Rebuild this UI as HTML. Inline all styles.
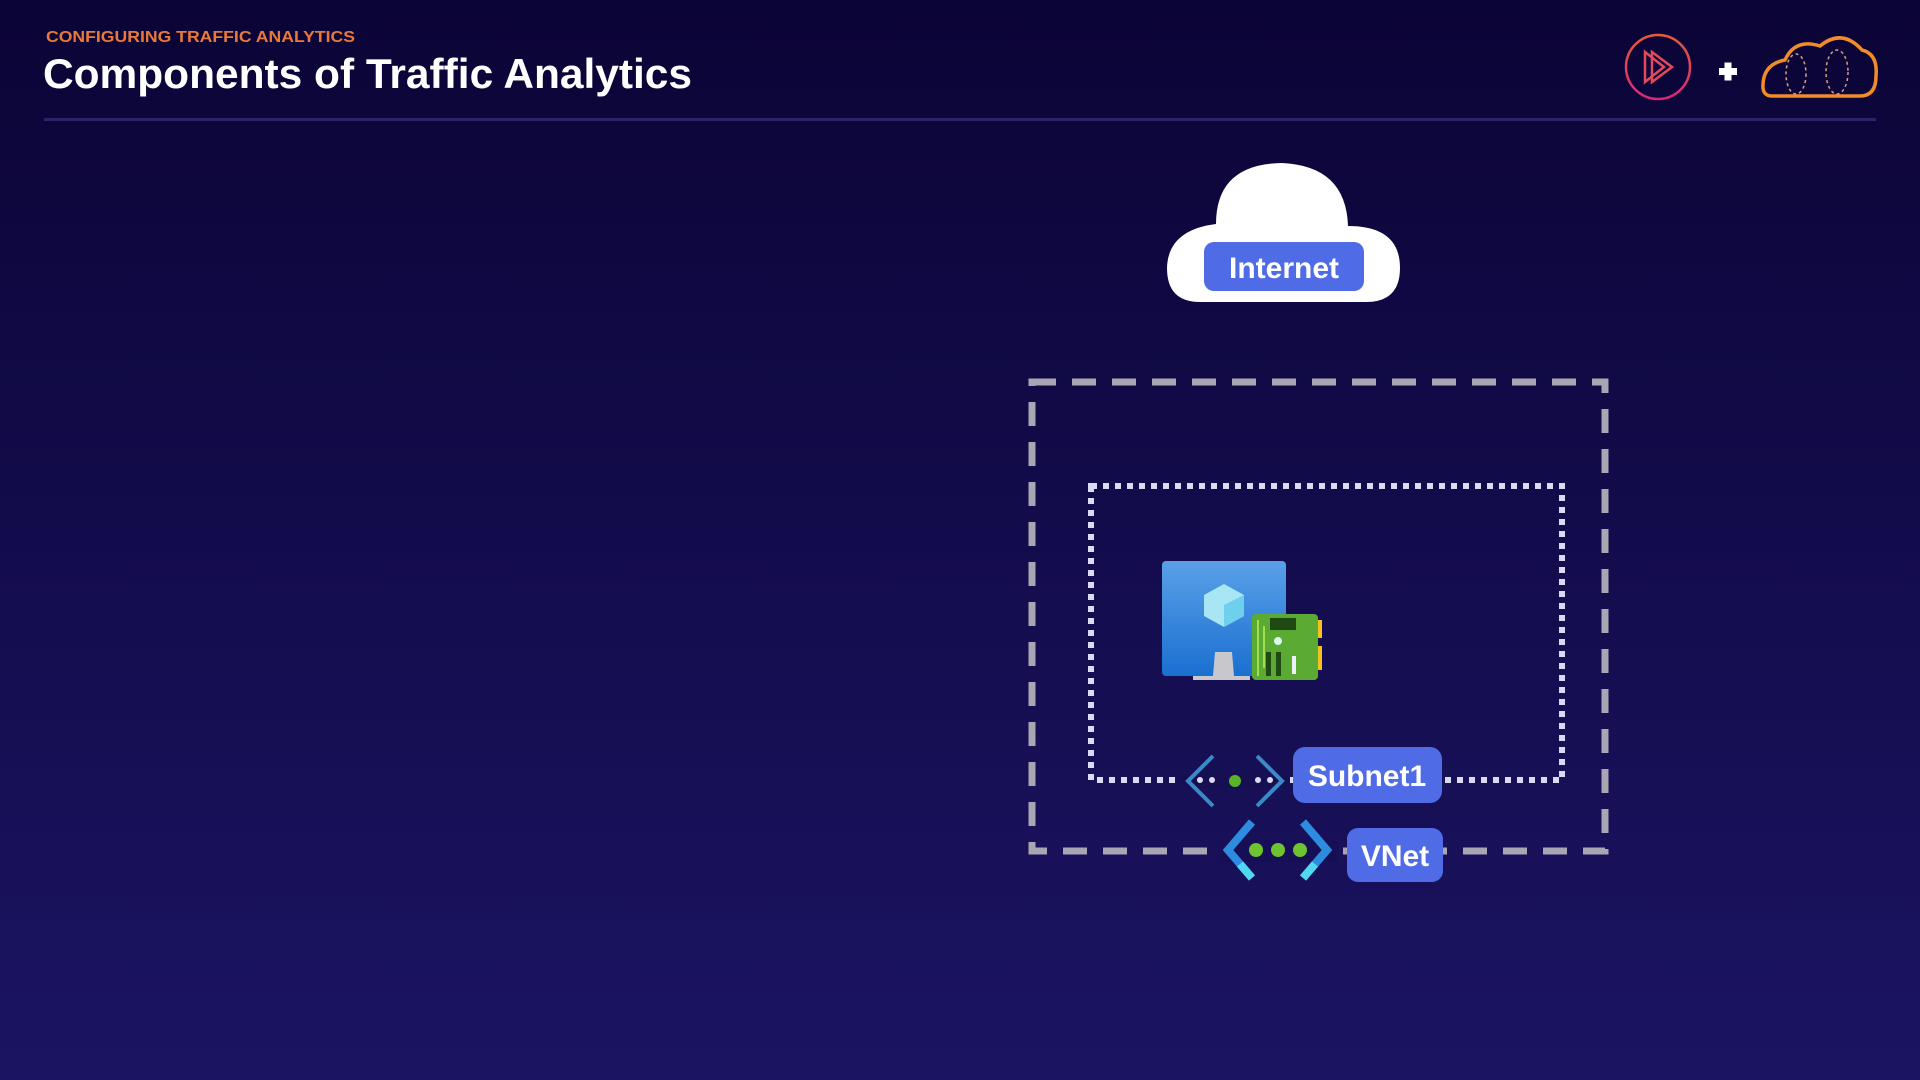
<!DOCTYPE html>
<html><head><meta charset="utf-8"><style>
html,body{margin:0;padding:0;width:1920px;height:1080px;overflow:hidden;background:#0c0538;}
svg{display:block}
</style></head><body>
<svg width="1920" height="1080" viewBox="0 0 1920 1080" xmlns="http://www.w3.org/2000/svg">
<defs>
<linearGradient id="bg" x1="0" y1="0" x2="0" y2="1">
<stop offset="0" stop-color="#0b0436"/><stop offset="1" stop-color="#1b1462"/>
</linearGradient>
<linearGradient id="pl" x1="0" y1="0" x2="0" y2="1">
<stop offset="0" stop-color="#e85a3a"/><stop offset="1" stop-color="#d9267a"/>
</linearGradient>
<linearGradient id="mon" x1="0" y1="0" x2="0" y2="1">
<stop offset="0" stop-color="#5aa0e8"/><stop offset="1" stop-color="#1a6fd0"/>
</linearGradient>
</defs>
<rect width="1920" height="1080" fill="url(#bg)"/>
<text x="46" y="42" textLength="309" lengthAdjust="spacingAndGlyphs" font-family="Liberation Sans, sans-serif" font-weight="bold" font-size="16" fill="#e8793a">CONFIGURING TRAFFIC ANALYTICS</text>
<text x="43" y="88" textLength="649" lengthAdjust="spacingAndGlyphs" font-family="Liberation Sans, sans-serif" font-weight="bold" font-size="42" fill="#ffffff">Components of Traffic Analytics</text>
<rect x="44" y="118" width="1832" height="3" fill="#2a2466"/>
<!-- logos -->
<circle cx="1658" cy="67" r="32" fill="none" stroke="url(#pl)" stroke-width="2.5"/>
<path d="M1645 52 L1645 82 L1664 67 Z" fill="none" stroke="#e24a5a" stroke-width="2.5"/>
<path d="M1652 52 L1652 82 L1672 67 Z" fill="none" stroke="#e24a5a" stroke-width="2.5"/>
<rect x="1719" y="68" width="18" height="7" fill="#fff"/><rect x="1724.5" y="62.5" width="7" height="18" fill="#fff"/>
<path d="M1772 96 Q1762 96 1763 84 Q1764 64 1785 60 Q1795 38 1820 46 Q1842 28 1862 50 Q1878 54 1876 76 Q1876 96 1860 96 Z" fill="none" stroke="#f08c2a" stroke-width="3.5"/>
<ellipse cx="1796" cy="74" rx="10" ry="20" fill="none" stroke="#d8a080" stroke-width="1.5" stroke-dasharray="3 3"/>
<ellipse cx="1837" cy="72" rx="11" ry="22" fill="none" stroke="#d8a080" stroke-width="1.5" stroke-dasharray="3 3"/>
<!-- internet cloud -->
<path d="M1200 302 Q1167 302 1167 268 Q1168 230 1216 224 Q1216 164 1282 163 Q1346 166 1348 226 Q1400 226 1400 268 Q1400 302 1366 302 Z" fill="#ffffff"/>
<rect x="1204" y="242" width="160" height="49" rx="10" fill="#4f6ce6"/>
<text x="1284" y="278" text-anchor="middle" font-family="Liberation Sans, sans-serif" font-weight="bold" font-size="30" fill="#fff">Internet</text>
<!-- outer dashed box -->
<rect x="1032" y="382" width="573" height="469" fill="none" stroke="#a7a6b2" stroke-width="7" stroke-dasharray="24 16"/>
<!-- inner dotted -->
<rect x="1091" y="486" width="471" height="294" fill="none" stroke="#dcdaf2" stroke-width="6" stroke-dasharray="6 6"/>
<!-- VM -->
<rect x="1162" y="561" width="124" height="115" rx="4" fill="url(#mon)"/>
<path d="M1193 676 L1213 676 L1215 652 L1232 652 L1234 676 L1250 676 L1250 680 L1193 680 Z" fill="#c8c8cc"/>
<polygon points="1224,584 1244,595 1244,616 1224,627 1204,616 1204,595" fill="#a8e6f5"/>
<polygon points="1224,605 1244,595 1244,616 1224,627" fill="#6fd0ee"/>
<!-- NIC -->
<rect x="1315" y="620" width="7" height="18" fill="#f4c21c"/><rect x="1315" y="646" width="7" height="24" fill="#f4c21c"/>
<rect x="1252" y="614" width="66" height="66" rx="4" fill="#5aaa34"/>
<rect x="1270" y="618" width="26" height="12" fill="#1f4a14"/>
<circle cx="1278" cy="641" r="4" fill="#dfe"/>
<rect x="1266" y="652" width="5" height="24" fill="#1f4a14"/><rect x="1276" y="652" width="5" height="24" fill="#1f4a14"/><rect x="1292" y="656" width="4" height="18" fill="#eef"/>
<path d="M1258 620 L1258 676 M1264 626 L1264 668" stroke="#b6f05a" stroke-width="1.5"/>
<!-- subnet icon -->
<rect x="1180" y="772" width="110" height="16" fill="#160f52"/>
<path d="M1213 756 L1188 781 L1213 806" fill="none" stroke="#3a8ac8" stroke-width="4"/>
<path d="M1257 756 L1282 781 L1257 806" fill="none" stroke="#3a8ac8" stroke-width="4"/>
<circle cx="1200" cy="780" r="3" fill="#dcdaf2"/><circle cx="1212" cy="780" r="3" fill="#dcdaf2"/>
<circle cx="1235" cy="781" r="6" fill="#5ab42a"/>
<circle cx="1258" cy="780" r="3" fill="#dcdaf2"/><circle cx="1270" cy="780" r="3" fill="#dcdaf2"/>
<rect x="1293" y="747" width="149" height="56" rx="12" fill="#4f6ce6"/>
<text x="1367" y="786" text-anchor="middle" font-family="Liberation Sans, sans-serif" font-weight="bold" font-size="30" fill="#fff">Subnet1</text>
<!-- vnet icon -->
<rect x="1220" y="840" width="118" height="22" fill="#170f55"/>
<path d="M1252 822 L1228 850 L1252 878" fill="none" stroke="#2e8ce0" stroke-width="8"/>
<path d="M1240 864 L1252 878" fill="none" stroke="#4fd8f0" stroke-width="8"/>
<path d="M1303 822 L1327 850 L1303 878" fill="none" stroke="#2e8ce0" stroke-width="8"/>
<path d="M1315 864 L1303 878" fill="none" stroke="#4fd8f0" stroke-width="8"/>
<circle cx="1256" cy="850" r="7" fill="#6fc32e"/><circle cx="1278" cy="850" r="7" fill="#6fc32e"/><circle cx="1300" cy="850" r="7" fill="#6fc32e"/>
<rect x="1347" y="828" width="96" height="54" rx="11" fill="#4f6ce6"/>
<text x="1395" y="866" text-anchor="middle" font-family="Liberation Sans, sans-serif" font-weight="bold" font-size="30" fill="#fff">VNet</text>
</svg>
</body></html>
